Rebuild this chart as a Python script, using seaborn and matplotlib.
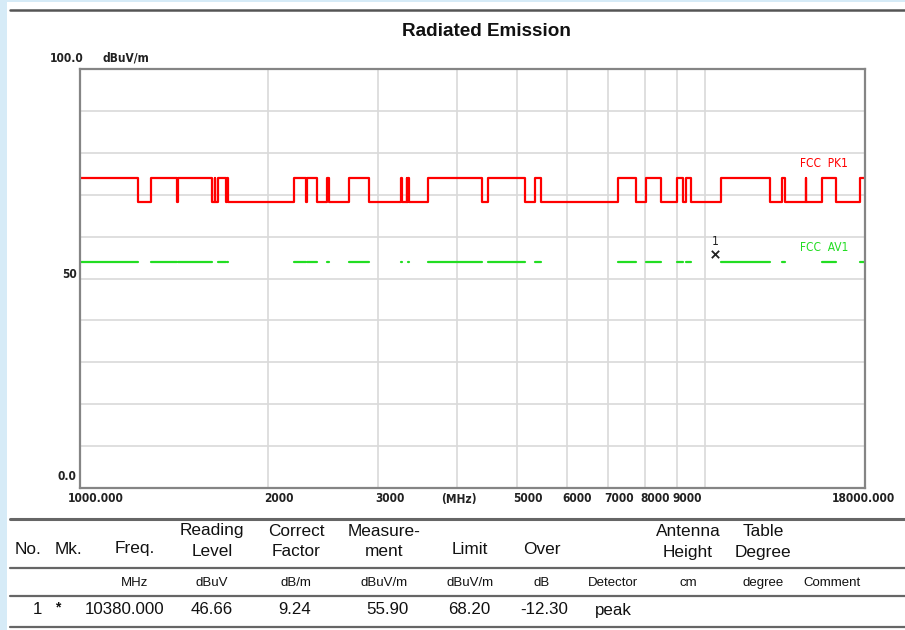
import matplotlib
matplotlib.use('Agg')
import matplotlib.pyplot as plt
import matplotlib.font_manager as fm
from matplotlib.lines import Line2D
from matplotlib.patches import Rectangle
import pandas as pd
import seaborn as sns

# FCC 15.205 restricted bands (MHz): 74 dBuV/m peak / 54 dBuV/m average inside,
# 68.2 dBuV/m peak outside
band_lo = [960, 1300, 1435, 1645.5, 1660, 1718.8, 2200, 2310, 2483.5, 2690,
           3260, 3332, 3345.8, 3600, 4500, 5350, 7250, 8025, 9000, 9300,
           10600, 13250, 14470, 15350, 17700]
band_hi = [1240, 1427, 1626.5, 1646.5, 1710, 1722.2, 2300, 2390, 2500, 2900,
           3267, 3339, 3358, 4400, 5150, 5460, 7750, 8500, 9200, 9500,
           12700, 13400, 14500, 16200, 21400]
pk_restricted = 74.0
pk_other = 68.2
av_restricted = 54.0
f_start = 1000.0
f_stop = 18000.0

# marker 1
mk_freq = [10380.0]
mk_level = [55.90]

x_ticks = [1000, 2000, 3000, 4000, 5000, 6000, 7000, 8000, 9000, 18000]
x_labels = ['1000.000', '2000', '3000', '(MHz)', '5000', '6000', '7000',
            '8000', '9000', '18000.000']
grid_freqs = [2000, 3000, 4000, 5000, 6000, 7000, 8000, 9000, 10000]

hdr_top = ['', '', '', 'Reading', 'Correct', 'Measure-', '', '', '', 'Antenna', 'Table', '']
hdr_bot = ['No.', 'Mk.', 'Freq.', 'Level', 'Factor', 'ment', 'Limit', 'Over', '',
           'Height', 'Degree', '']
units = ['', '', 'MHz', 'dBuV', 'dB/m', 'dBuV/m', 'dBuV/m', 'dB', 'Detector',
         'cm', 'degree', 'Comment']
row1 = ['1', '*', '10380.000', '46.66', '9.24', '55.90', '68.20', '-12.30', 'peak',
        '', '', '']

# ---- build limit lines ----
pk_x = [f_start]
pk_y = [pk_restricted if band_lo[0] <= f_start else pk_other]
for lo, hi in zip(band_lo, band_hi):
    if lo > f_start:
        pk_x += [lo, lo]
        pk_y += [pk_other, pk_restricted]
    if hi < f_stop:
        pk_x += [hi, hi]
        pk_y += [pk_restricted, pk_other]
pk_x.append(f_stop)
pk_y.append(pk_y[-1])
pk = pd.DataFrame({'freq': pk_x, 'level': pk_y})

av_rows = []
for i, (lo, hi) in enumerate(zip(band_lo, band_hi)):
    av_rows.append((max(lo, f_start), av_restricted, i))
    av_rows.append((min(hi, f_stop), av_restricted, i))
av = pd.DataFrame(av_rows, columns=['freq', 'level', 'seg'])

mk = pd.DataFrame({'freq': mk_freq, 'level': mk_level})

# ---- style ----
sns.set_theme(style='white')
plt.rcParams['font.family'] = ['Liberation Sans', 'DejaVu Sans']

# the chart labels use a narrow bold face; use a condensed one if present
has_cond = any(f.name == 'DejaVu Sans' and f.stretch == 'condensed'
               for f in fm.fontManager.ttflist)
AXFONT = 'DejaVu Sans'
AXSTRETCH = 'condensed' if has_cond else 'normal'
AXSIZE = 8.6 if has_cond else 7.8

W, H = 905, 630
fig = plt.figure(figsize=(W / 100, H / 100), dpi=100)
fig.patch.set_facecolor('#d6ebf7')
fig.patches.append(Rectangle((7 / W, 0), 1, 1 - 2 / H, transform=fig.transFigure,
                             facecolor='white', edgecolor='none', zorder=-1))


def fx(x):
    return x / W


def fy(y):
    return 1 - y / H


ax = fig.add_axes([fx(80), fy(488), (865 - 80) / W, (488 - 69) / H])
ax.set_xscale('log')

sns.lineplot(data=pk, x='freq', y='level', ax=ax, color='#ff0000', lw=1.6,
             estimator=None, sort=False)
sns.lineplot(data=av, x='freq', y='level', units='seg', ax=ax, color='#22dd22',
             lw=1.6, estimator=None, sort=False)
sns.scatterplot(data=mk, x='freq', y='level', ax=ax, marker='x', color='#222222',
                s=28, linewidth=1.3, zorder=5)

ax.set_xlim(f_start, f_stop)
ax.set_ylim(0, 100)
ax.set_xticks(grid_freqs)
ax.set_xticks([], minor=True)
ax.set_yticks(range(0, 101, 10))
ax.grid(True, color='#d9d9d9', lw=1.2)
ax.tick_params(length=0, labelbottom=False, labelleft=False)
ax.set_xlabel('')
ax.set_ylabel('')
for sp in ax.spines.values():
    sp.set_color('#858585')
    sp.set_linewidth(1.6)

axtxt = dict(fontsize=AXSIZE, fontweight='bold', family=AXFONT,
             fontstretch=AXSTRETCH, color='#222222')

# x tick labels (left edge offset in pixels)
tick_dx = [-12, -4, -3, -15, -4, -4, -4, -4, -4, -33]
for f, lab, dx in zip(x_ticks, x_labels, tick_dx):
    ax.annotate(lab, xy=(f, 0), xycoords=('data', 'axes fraction'),
                xytext=(dx, -11), textcoords='offset pixels', ha='left', va='center',
                **axtxt)

fig.text(fx(84), fy(58), '100.0', ha='right', va='center', **axtxt)
fig.text(fx(102), fy(58), 'dBuV/m', ha='left', va='center', **axtxt)
fig.text(fx(77), fy(275), '50', ha='right', va='center', **axtxt)
fig.text(fx(76), fy(477), '0.0', ha='right', va='center', **axtxt)

lbl = dict(fontsize=8.6, family=AXFONT, fontstretch=AXSTRETCH)
ax.annotate('FCC  PK1', xy=(1, pk_restricted), xycoords=('axes fraction', 'data'),
            xytext=(-17, 14), textcoords='offset pixels', ha='right', va='center',
            color='#ff0000', **lbl)
ax.annotate('FCC  AV1', xy=(1, av_restricted), xycoords=('axes fraction', 'data'),
            xytext=(-17, 14), textcoords='offset pixels', ha='right', va='center',
            color='#22dd22', **lbl)
ax.annotate('1', xy=(mk_freq[0], mk_level[0]), xytext=(0, 12),
            textcoords='offset pixels', ha='center', va='center',
            color='#222222', **lbl)

# title and frame line
fig.text(fx(486), fy(31), 'Radiated Emission', ha='center', va='center',
         fontsize=13.6, fontweight='bold', color='#111111')
fig.add_artist(Line2D([fx(10), 1], [fy(10), fy(10)], color='#555555', lw=1.8))

# ---- result table ----
for y, lw in [(519, 2.2), (568, 1.6), (596, 1.6), (627, 1.6)]:
    fig.add_artist(Line2D([fx(10), 1], [fy(y), fy(y)], color='#666666', lw=lw))

col_x = [28, 68, 135, 212, 296, 384, 470, 542, 613, 688, 763, 832]
for cx, t, b in zip(col_x, hdr_top, hdr_bot):
    if t:
        fig.text(fx(cx), fy(531), t, ha='center', va='center', fontsize=12.4,
                 color='#111111')
        fig.text(fx(cx), fy(552), b, ha='center', va='center', fontsize=12.4,
                 color='#111111')
    elif b:
        fig.text(fx(cx), fy(549), b, ha='center', va='center', fontsize=12.4,
                 color='#111111')
for cx, u in zip(col_x, units):
    if u:
        fig.text(fx(cx), fy(583), u, ha='center', va='center', fontsize=9.5,
                 color='#111111')
row_x = [42, 58, 125, 212, 295, 387, 469, 544, 613, 688, 763, 832]
for i, (cx, v) in enumerate(zip(row_x, row1)):
    if not v:
        continue
    if i == 0:
        fig.text(fx(cx), fy(610), v, ha='right', va='center', fontsize=12.2,
                 color='#111111')
    elif i == 1:
        fig.text(fx(cx), fy(607), v, ha='center', va='center', fontsize=10,
                 fontweight='bold', color='#111111')
    else:
        fig.text(fx(cx), fy(610), v, ha='center', va='center', fontsize=12.2,
                 color='#111111')

fig.savefig('out.png', dpi=100, facecolor=fig.get_facecolor())
